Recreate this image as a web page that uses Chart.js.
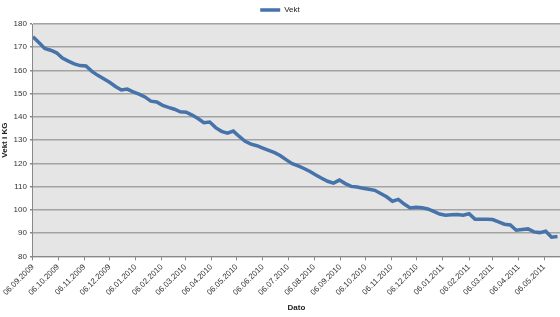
<!DOCTYPE html>
<html>
<head>
<meta charset="utf-8">
<script src="https://cdn.jsdelivr.net/npm/chart.js@4/dist/chart.umd.min.js"></script>
<style>
  html, body { margin: 0; padding: 0; background: #fff; }
  #wrap { width: 560px; height: 317px; }
</style>
</head>
<body>
<div id="wrap"><canvas id="vektChart" width="560" height="317"></canvas></div>
<script>
// Vekt, weekly readings from 06.09.2009
var startDate = '06.09.2009';
var weekStep = 7;
var vekt = [
  174.5, 172, 169.5, 168.7, 167.6, 165.3, 164, 162.8, 162.1, 161.9,
  159.6, 157.9, 156.4, 154.9, 153.1, 151.6, 152, 150.8, 149.8, 148.6,
  146.8, 146.4, 145, 144.1, 143.3, 142.2, 142, 140.8, 139.3, 137.5,
  137.8, 135.4, 133.8, 133, 133.9, 131.6, 129.5, 128.3, 127.6, 126.6,
  125.6, 124.6, 123.3, 121.5, 119.9, 118.9, 117.8, 116.5, 115, 113.6,
  112.3, 111.5, 112.8, 111.3, 110.1, 109.8, 109.3, 108.9, 108.4, 107,
  105.6, 103.7, 104.5, 102.5, 100.8, 101.1, 100.9, 100.4, 99.3, 98.2,
  97.7, 97.9, 98, 97.7, 98.3, 96, 96, 96, 95.8, 94.8,
  93.8, 93.5, 91.2, 91.5, 91.8, 90.5, 90.2, 90.8, 88.2, 88.5
];
var tickLabels = [
  '06.09.2009', '06.10.2009', '06.11.2009', '06.12.2009',
  '06.01.2010', '06.02.2010', '06.03.2010', '06.04.2010', '06.05.2010', '06.06.2010',
  '06.07.2010', '06.08.2010', '06.09.2010', '06.10.2010', '06.11.2010', '06.12.2010',
  '06.01.2011', '06.02.2011', '06.03.2011', '06.04.2011', '06.05.2011'
];
var yTicks = [80, 90, 100, 110, 120, 130, 140, 150, 160, 170, 180];

function dayNo(s) {
  var p = s.split('.');
  return Date.UTC(+p[2], +p[1] - 1, +p[0]) / 86400000;
}
var day0 = dayNo(startDate);
var tickDays = tickLabels.map(function (t) { return dayNo(t) - day0; });
var points = vekt.map(function (v, i) { return { x: i * weekStep, y: v }; });

var plotBg = {
  id: 'plotBg',
  beforeDraw: function (chart) {
    var a = chart.chartArea, c = chart.ctx;
    c.save();
    c.fillStyle = '#e5e5e5';
    c.fillRect(a.left, a.top, a.right - a.left, a.bottom - a.top);
    c.restore();
  }
};

var ctx = document.getElementById('vektChart').getContext('2d');
var myChart = new Chart(ctx, {
  type: 'line',
  data: {
    datasets: [{
      label: 'Vekt',
      data: points,
      borderColor: '#4673a9',
      backgroundColor: '#4673a9',
      borderWidth: 3.5,
      pointRadius: 0,
      tension: 0,
      fill: false
    }]
  },
  options: {
    responsive: false,
    animation: false,
    layout: { padding: { left: 0, right: 0, top: 0, bottom: 4 } },
    plugins: {
      legend: {
        display: true,
        position: 'top',
        labels: {
          usePointStyle: true,
          pointStyle: 'line',
          pointStyleWidth: 20,
          boxHeight: 3,
          color: '#222',
          font: { family: 'Liberation Sans', size: 8 },
          padding: 6
        }
      },
      tooltip: { enabled: false }
    },
    scales: {
      x: {
        type: 'linear',
        min: 0,
        max: 626,
        afterBuildTicks: function (axis) {
          axis.ticks = tickDays.map(function (d) { return { value: d }; });
        },
        ticks: {
          autoSkip: false,
          maxRotation: 45,
          minRotation: 45,
          color: '#333',
          font: { family: 'Liberation Sans', size: 8 },
          padding: 2,
          callback: function (v) {
            var i = tickDays.indexOf(v);
            return i >= 0 ? tickLabels[i] : '';
          }
        },
        grid: { display: true, drawOnChartArea: false, drawTicks: true, tickLength: 4, color: '#888' },
        border: { display: true, color: '#888', width: 1 },
        title: {
          display: true,
          text: 'Dato',
          color: '#222',
          font: { family: 'Liberation Sans', size: 8, weight: 'bold' },
          padding: { top: 4, bottom: 0 }
        }
      },
      y: {
        min: 80,
        max: 180,
        afterBuildTicks: function (axis) {
          axis.ticks = yTicks.map(function (v) { return { value: v }; });
        },
        ticks: {
          color: '#333',
          font: { family: 'Liberation Sans', size: 8 },
          padding: 3
        },
        grid: { color: '#a3a3a3', lineWidth: 1.5, tickLength: 3, tickColor: '#888' },
        border: { display: true, color: '#888', width: 1 },
        title: {
          display: true,
          text: 'Vekt i KG',
          color: '#222',
          font: { family: 'Liberation Sans', size: 8, weight: 'bold' },
          padding: { top: 0, bottom: 1 }
        }
      }
    }
  },
  plugins: [plotBg]
});
</script>
</body>
</html>
